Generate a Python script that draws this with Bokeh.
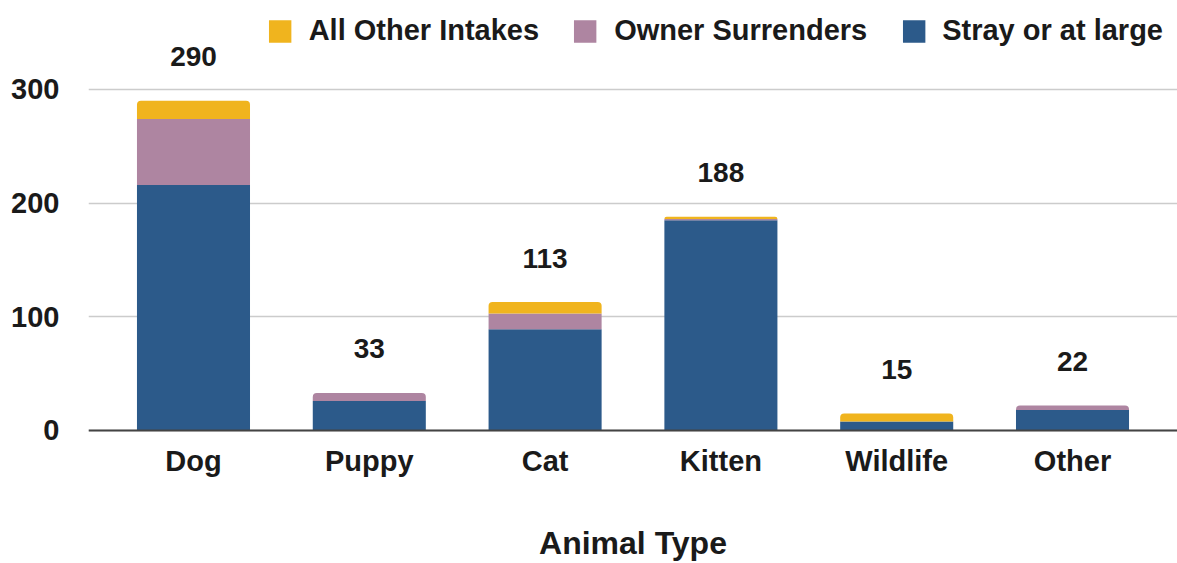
from bokeh.plotting import figure
from bokeh.models import (ColumnDataSource, FactorRange, Range1d, FixedTicker,
                          Legend, LegendItem, CDSView, IndexFilter, Span)
from bokeh.transform import stack
from bokeh.core.properties import value
from bokeh.embed import file_html
from bokeh.resources import INLINE

categories = ["Dog", "Puppy", "Cat", "Kitten", "Wildlife", "Other"]
stray = [216, 26, 89, 185, 8, 18]
owner = [58, 7, 14, 1, 0, 4]
other = [16, 0, 10, 2, 7, 0]
totals = [290, 33, 113, 188, 15, 22]
y_ticks = [0, 100, 200, 300]
x_title = "Animal Type"

C_STRAY = "#2C5A8A"
C_OWNER = "#AE85A1"
C_OTHER = "#F0B41E"
FONT = "Liberation Sans"
TXT = "#1a1a1a"

source = ColumnDataSource(dict(cat=categories, stray=stray, owner=owner,
                               other=other, total=totals))

p = figure(width=1177, height=563, output_backend="svg", toolbar_location=None,
           x_axis_location=None,
           x_range=FactorRange(factors=categories, range_padding=0.0324,
                               range_padding_units="percent"),
           y_range=Range1d(-117.0, 378.2))
p.min_border_left = 88
p.min_border_right = 0
p.min_border_top = 0
p.min_border_bottom = 0
p.outline_line_color = None
p.background_fill_color = "white"

BW = 0.643
r_stray = p.vbar(x="cat", bottom=0, top=stack("stray"), width=BW, source=source,
                 fill_color=C_STRAY, line_color=None)

top_owner_idx = [i for i in range(len(categories)) if other[i] == 0]
mid_owner_idx = [i for i in range(len(categories)) if other[i] != 0]
r_owner = p.vbar(x="cat", bottom=stack("stray"), top=stack("stray", "owner"),
                 width=BW, source=source, fill_color=C_OWNER, line_color=None,
                 view=CDSView(filter=IndexFilter(mid_owner_idx)))
r_owner2 = p.vbar(x="cat", bottom=stack("stray"), top=stack("stray", "owner"),
                  width=BW, source=source, fill_color=C_OWNER, line_color=None,
                  border_radius=(4, 4, 0, 0),
                  view=CDSView(filter=IndexFilter(top_owner_idx)))
r_other = p.vbar(x="cat", bottom=stack("stray", "owner"),
                 top=stack("stray", "owner", "other"), width=BW, source=source,
                 fill_color=C_OTHER, line_color=None, border_radius=(4, 4, 0, 0))

# baseline (x axis line)
p.add_layout(Span(location=0, dimension="width", line_color="#444444",
                  line_width=2))

# totals above bars
p.text(x="cat", y="total", text="total", source=source, y_offset=-44,
       text_align="center", text_baseline="middle",
       text_font=value(FONT), text_font_style="bold", text_font_size="28px",
       text_color=TXT)

# category labels (x axis tick labels)
p.text(x="cat", y=0, text="cat", source=source, y_offset=31,
       text_align="center", text_baseline="alphabetic",
       text_font=value(FONT), text_font_style="bold", text_font_size="29px",
       text_color=TXT)

# x axis title
title_src = ColumnDataSource(dict(x=[len(categories) / 2], y=[0], t=[x_title]))
p.text(x="x", y="y", text="t", source=title_src, y_offset=113,
       text_align="center", text_baseline="alphabetic",
       text_font=value(FONT), text_font_style="bold", text_font_size="32px",
       text_color=TXT)

ya = p.yaxis[0]
ya.ticker = FixedTicker(ticks=y_ticks)
ya.major_label_text_font = FONT
ya.major_label_text_font_style = "bold"
ya.major_label_text_font_size = "29px"
ya.major_label_text_color = TXT
ya.major_label_standoff = 23
ya.axis_line_color = None
ya.major_tick_line_color = None
ya.minor_tick_line_color = None

p.xgrid.grid_line_color = None
p.ygrid.ticker = FixedTicker(ticks=y_ticks)
p.ygrid.grid_line_color = "#cccccc"
p.ygrid.grid_line_width = 1.5

legend = Legend(items=[
    LegendItem(label="All Other Intakes", renderers=[r_other]),
    LegendItem(label="Owner Surrenders", renderers=[r_owner]),
    LegendItem(label="Stray or at large", renderers=[r_stray]),
], orientation="horizontal", location="top_right")
legend.label_text_font = FONT
legend.label_text_font_style = "bold"
legend.label_text_font_size = "29px"
legend.label_text_color = TXT
legend.glyph_width = 28
legend.glyph_height = 28
legend.label_standoff = 15
legend.spacing = 32
legend.padding = 14
legend.margin = 14
legend.background_fill_alpha = 0
legend.border_line_color = None
p.add_layout(legend, "center")

with open("out.html", "w") as f:
    f.write(file_html(p, INLINE))
